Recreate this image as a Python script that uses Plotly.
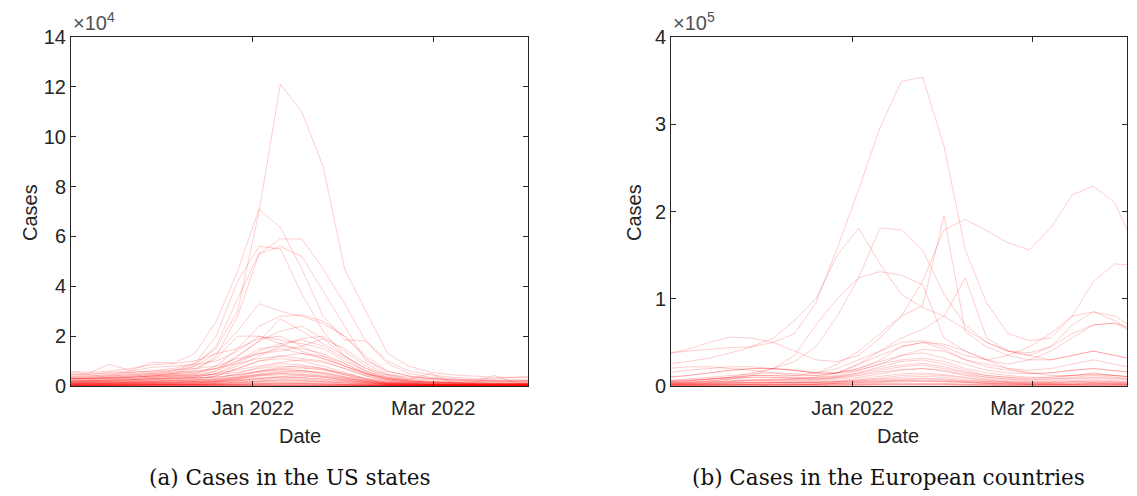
import plotly.graph_objects as go

W, H = 1137, 496

dates = ["2021-11-01", "2021-11-08", "2021-11-15", "2021-11-22", "2021-11-29", "2021-12-06",
         "2021-12-13", "2021-12-20", "2021-12-27", "2022-01-03", "2022-01-10", "2022-01-17",
         "2022-01-24", "2022-01-31", "2022-02-07", "2022-02-14", "2022-02-21", "2022-02-28",
         "2022-03-07", "2022-03-14", "2022-03-21", "2022-03-28", "2022-04-04"]

# US states, cases (x 1e4)
us_01 = [0.45,0.50,0.52,0.55,0.60,0.70,0.90,1.50,3.00,7.00,12.10,11.00,8.80,4.70,3.00,1.30,0.80,0.55,0.45,0.40,0.35,0.35,0.35]
us_02 = [0.55,0.50,0.87,0.62,0.95,0.92,1.30,2.60,4.60,7.10,6.35,4.70,2.80,1.85,1.80,1.00,0.60,0.45,0.35,0.30,0.30,0.35,0.40]
us_03 = [0.30,0.30,0.35,0.35,0.40,0.45,0.60,1.20,2.80,5.30,5.90,5.90,4.70,3.30,1.80,0.90,0.50,0.35,0.30,0.25,0.25,0.25,0.25]
us_04 = [0.35,0.35,0.40,0.45,0.50,0.60,0.90,2.00,4.20,5.60,5.50,3.70,2.20,1.20,0.70,0.45,0.35,0.30,0.25,0.20,0.20,0.20,0.20]
us_05 = [0.30,0.30,0.35,0.40,0.45,0.50,0.80,1.60,3.50,5.30,5.60,5.20,3.80,2.40,1.00,0.60,0.40,0.30,0.25,0.20,0.20,0.20,0.20]
us_06 = [0.40,0.40,0.45,0.50,0.55,0.60,0.80,1.30,2.20,3.30,3.00,2.80,2.50,2.00,1.20,0.60,0.40,0.30,0.25,0.25,0.20,0.20,0.20]
us_07 = [0.30,0.30,0.30,0.35,0.40,0.45,0.50,0.80,1.50,2.40,2.80,2.85,2.60,2.00,1.10,0.50,0.30,0.25,0.20,0.20,0.20,0.20,0.20]
us_08 = [0.20,0.20,0.25,0.25,0.30,0.35,0.40,0.60,1.20,1.80,2.70,2.20,1.70,1.20,0.70,0.35,0.25,0.20,0.15,0.15,0.15,0.15,0.15]
us_09 = [0.20,0.20,0.20,0.25,0.30,0.30,0.35,0.50,0.80,1.20,1.60,1.90,2.00,1.40,0.80,0.40,0.25,0.50,0.15,0.15,0.15,0.15,0.15]
us_10 = [0.30,0.30,0.35,0.40,0.45,0.50,0.70,1.10,2.00,2.00,1.70,1.40,1.10,0.80,0.50,0.30,0.20,0.15,0.15,0.15,0.10,0.10,0.10]
us_11 = [0.25,0.25,0.30,0.30,0.35,0.40,0.50,0.70,1.20,1.80,2.20,2.40,1.90,1.20,0.60,0.30,0.20,0.15,0.15,0.10,0.10,0.10,0.10]
us_12 = [0.60,0.55,0.60,0.70,0.85,0.90,1.00,1.30,1.50,1.90,2.00,1.60,1.20,0.80,0.50,0.30,0.20,0.15,0.12,0.10,0.10,0.10,0.10]
us_13 = [0.50,0.45,0.55,0.60,0.75,0.80,0.85,1.00,1.40,2.00,1.85,1.70,1.50,1.00,0.60,0.35,0.20,0.15,0.12,0.10,0.10,0.10,0.10]
us_14 = [0.15,0.15,0.20,0.20,0.25,0.30,0.35,0.50,0.90,1.40,1.70,1.85,1.60,1.10,0.55,0.30,0.18,0.12,0.10,0.10,0.08,0.08,0.08]
us_15 = [0.20,0.20,0.25,0.30,0.35,0.40,0.45,0.60,1.00,1.50,1.60,1.50,1.30,0.90,0.50,0.25,0.15,0.12,0.10,0.08,0.08,0.08,0.08]
us_16 = [0.40,0.40,0.45,0.55,0.60,0.65,0.70,0.80,1.10,1.30,1.40,1.60,1.90,1.50,0.90,0.45,0.25,0.18,0.15,0.12,0.43,0.12,0.12]
us_17 = [0.25,0.25,0.30,0.35,0.40,0.50,0.55,0.70,1.00,1.30,1.50,1.30,1.10,0.80,0.45,0.25,0.15,0.12,0.10,0.08,0.08,0.08,0.08]
us_18 = [0.15,0.15,0.18,0.20,0.22,0.25,0.30,0.40,0.70,1.00,1.20,1.30,1.20,0.90,0.50,0.25,0.15,0.10,0.08,0.06,0.06,0.06,0.06]
us_19 = [0.35,0.35,0.40,0.45,0.50,0.55,0.60,0.70,0.90,1.10,1.20,1.10,1.00,0.70,0.40,0.20,0.12,0.10,0.08,0.07,0.07,0.07,0.07]
us_20 = [0.10,0.10,0.12,0.15,0.18,0.20,0.25,0.40,0.70,1.00,1.10,1.00,0.80,0.55,0.30,0.15,0.10,0.08,0.06,0.05,0.05,0.05,0.05]
us_21 = [0.20,0.20,0.22,0.25,0.30,0.35,0.40,0.50,0.65,0.80,0.95,1.05,0.95,0.70,0.40,0.20,0.12,0.08,0.07,0.06,0.06,0.06,0.06]
us_22 = [0.12,0.12,0.15,0.15,0.18,0.20,0.22,0.30,0.50,0.75,0.90,0.85,0.70,0.50,0.28,0.15,0.10,0.07,0.06,0.05,0.05,0.05,0.05]
us_23 = [0.30,0.30,0.32,0.35,0.40,0.40,0.42,0.45,0.55,0.70,0.80,0.75,0.65,0.50,0.30,0.18,0.10,0.08,0.06,0.05,0.05,0.05,0.05]
us_24 = [0.08,0.08,0.10,0.12,0.14,0.15,0.18,0.25,0.40,0.60,0.75,0.80,0.70,0.45,0.25,0.12,0.08,0.06,0.05,0.04,0.04,0.04,0.04]
us_25 = [0.18,0.18,0.20,0.22,0.25,0.28,0.30,0.35,0.45,0.60,0.70,0.72,0.65,0.45,0.25,0.12,0.08,0.06,0.05,0.04,0.04,0.04,0.04]
us_26 = [0.10,0.10,0.12,0.12,0.14,0.15,0.16,0.20,0.30,0.45,0.55,0.60,0.55,0.40,0.22,0.12,0.07,0.05,0.04,0.04,0.04,0.04,0.04]
us_27 = [0.15,0.15,0.16,0.18,0.20,0.22,0.25,0.28,0.35,0.45,0.50,0.48,0.40,0.30,0.18,0.10,0.06,0.05,0.04,0.03,0.03,0.03,0.03]
us_28 = [0.06,0.06,0.07,0.08,0.09,0.10,0.12,0.18,0.30,0.40,0.45,0.42,0.35,0.25,0.14,0.08,0.05,0.04,0.03,0.03,0.03,0.03,0.03]
us_29 = [0.12,0.12,0.13,0.14,0.15,0.16,0.18,0.20,0.25,0.32,0.38,0.40,0.35,0.25,0.15,0.08,0.05,0.04,0.03,0.03,0.03,0.03,0.03]
us_30 = [0.05,0.05,0.06,0.06,0.07,0.08,0.10,0.14,0.22,0.30,0.35,0.33,0.28,0.20,0.12,0.06,0.04,0.03,0.03,0.02,0.02,0.02,0.02]
us_31 = [0.08,0.08,0.09,0.10,0.11,0.12,0.13,0.15,0.20,0.26,0.30,0.28,0.24,0.17,0.10,0.06,0.04,0.03,0.02,0.02,0.02,0.02,0.02]
us_32 = [0.04,0.04,0.05,0.05,0.06,0.07,0.08,0.10,0.16,0.22,0.25,0.24,0.20,0.14,0.08,0.05,0.03,0.02,0.02,0.02,0.02,0.02,0.02]
us_33 = [0.06,0.06,0.06,0.07,0.08,0.08,0.09,0.11,0.14,0.18,0.20,0.19,0.16,0.11,0.07,0.04,0.03,0.02,0.02,0.02,0.02,0.02,0.02]
us_34 = [0.03,0.03,0.03,0.04,0.04,0.05,0.06,0.08,0.12,0.15,0.16,0.15,0.12,0.08,0.05,0.03,0.02,0.02,0.01,0.01,0.01,0.01,0.01]
us_35 = [0.04,0.04,0.04,0.05,0.05,0.05,0.06,0.07,0.09,0.11,0.12,0.11,0.09,0.07,0.04,0.03,0.02,0.01,0.01,0.01,0.01,0.01,0.01]
us_36 = [0.02,0.02,0.02,0.03,0.03,0.03,0.04,0.05,0.07,0.09,0.10,0.09,0.07,0.05,0.03,0.02,0.01,0.01,0.01,0.01,0.01,0.01,0.01]
us_37 = [0.03,0.03,0.03,0.03,0.04,0.04,0.04,0.05,0.06,0.07,0.08,0.07,0.06,0.04,0.03,0.02,0.01,0.01,0.01,0.01,0.01,0.01,0.01]
us_38 = [0.01,0.01,0.01,0.02,0.02,0.02,0.02,0.03,0.04,0.05,0.05,0.05,0.04,0.03,0.02,0.01,0.01,0.01,0.01,0.01,0.01,0.01,0.01]
us_39 = [0.02,0.02,0.02,0.02,0.02,0.03,0.03,0.03,0.04,0.04,0.05,0.04,0.04,0.03,0.02,0.01,0.01,0.01,0.01,0.01,0.01,0.01,0.01]
us_40 = [0.01,0.01,0.01,0.01,0.01,0.01,0.02,0.02,0.03,0.03,0.03,0.03,0.02,0.02,0.01,0.01,0.01,0.01,0.01,0.01,0.01,0.01,0.01]
us_41 = [0.02,0.02,0.02,0.02,0.03,0.03,0.03,0.04,0.05,0.06,0.06,0.06,0.05,0.04,0.02,0.02,0.01,0.01,0.01,0.01,0.01,0.01,0.01]
us_42 = [0.01,0.01,0.01,0.01,0.01,0.01,0.01,0.01,0.02,0.02,0.02,0.02,0.02,0.01,0.01,0.01,0.00,0.00,0.00,0.00,0.00,0.00,0.00]
us_43 = [0.03,0.03,0.04,0.04,0.04,0.05,0.05,0.06,0.08,0.10,0.11,0.10,0.09,0.06,0.04,0.02,0.02,0.01,0.01,0.01,0.01,0.01,0.01]
us_44 = [0.00,0.00,0.00,0.01,0.01,0.01,0.01,0.01,0.01,0.01,0.02,0.01,0.01,0.01,0.01,0.00,0.00,0.00,0.00,0.00,0.00,0.00,0.00]
us_45 = [0.09,0.09,0.10,0.11,0.12,0.13,0.15,0.20,0.35,0.55,0.65,0.62,0.50,0.35,0.18,0.10,0.06,0.05,0.04,0.04,0.04,0.04,0.04]
us_46 = [0.07,0.07,0.08,0.09,0.10,0.11,0.12,0.16,0.28,0.42,0.50,0.46,0.38,0.26,0.14,0.08,0.05,0.04,0.03,0.03,0.03,0.03,0.03]
us_47 = [0.14,0.14,0.15,0.16,0.18,0.20,0.22,0.26,0.34,0.48,0.58,0.55,0.45,0.32,0.18,0.10,0.07,0.05,0.05,0.04,0.04,0.04,0.04]
us_48 = [0.05,0.05,0.05,0.06,0.06,0.07,0.08,0.10,0.14,0.20,0.24,0.22,0.18,0.12,0.07,0.04,0.03,0.02,0.02,0.02,0.02,0.02,0.02]
us_49 = [0.10,0.10,0.11,0.12,0.13,0.14,0.15,0.17,0.22,0.30,0.36,0.34,0.28,0.20,0.12,0.07,0.05,0.04,0.03,0.03,0.03,0.03,0.03]
us_50 = [0.22,0.22,0.24,0.26,0.28,0.30,0.32,0.36,0.45,0.58,0.66,0.62,0.52,0.36,0.20,0.12,0.08,0.06,0.05,0.05,0.05,0.05,0.05]

us_series = [us_01, us_02, us_03, us_04, us_05, us_06, us_07, us_08, us_09, us_10,
             us_11, us_12, us_13, us_14, us_15, us_16, us_17, us_18, us_19, us_20,
             us_21, us_22, us_23, us_24, us_25, us_26, us_27, us_28, us_29, us_30,
             us_31, us_32, us_33, us_34, us_35, us_36, us_37, us_38, us_39, us_40,
             us_41, us_42, us_43, us_44, us_45, us_46, us_47, us_48, us_49, us_50]

# European countries, cases (x 1e5)
eu_01 = [0.25,0.28,0.32,0.38,0.45,0.50,0.60,0.95,1.58,2.25,2.96,3.49,3.54,2.75,1.56,0.95,0.60,0.52,0.55,0.80,1.20,1.40,1.38]
eu_02 = [0.37,0.42,0.50,0.56,0.55,0.50,0.40,0.30,0.28,0.35,0.55,0.80,1.20,1.79,1.91,1.78,1.64,1.56,1.81,2.19,2.29,2.10,1.55]
eu_03 = [0.37,0.40,0.42,0.44,0.45,0.55,0.75,1.00,1.50,1.81,1.40,1.05,0.90,0.80,0.65,0.50,0.40,0.35,0.45,0.70,0.85,0.80,0.65]
eu_04 = [0.05,0.06,0.08,0.10,0.15,0.20,0.28,0.45,0.80,1.24,1.81,1.79,1.56,1.05,0.70,0.50,0.40,0.38,0.45,0.60,0.70,0.72,0.65]
eu_05 = [0.03,0.04,0.06,0.08,0.12,0.20,0.35,0.70,1.00,1.24,1.31,1.27,1.16,0.55,0.40,0.30,0.20,0.15,0.12,0.12,0.15,0.12,0.10]
eu_06 = [0.05,0.06,0.08,0.10,0.12,0.12,0.12,0.15,0.25,0.40,0.60,0.80,0.92,1.95,0.62,0.45,0.35,0.30,0.30,0.35,0.40,0.35,0.30]
eu_07 = [0.03,0.03,0.04,0.05,0.06,0.07,0.08,0.10,0.15,0.25,0.40,0.55,0.65,0.80,1.24,0.55,0.40,0.35,0.30,0.35,0.40,0.35,0.30]
eu_08 = [0.20,0.22,0.22,0.20,0.18,0.15,0.12,0.12,0.15,0.25,0.35,0.45,0.50,0.48,0.40,0.30,0.25,0.30,0.40,0.55,0.70,0.72,0.60]
eu_09 = [0.10,0.12,0.15,0.18,0.20,0.20,0.18,0.15,0.20,0.30,0.40,0.50,0.52,0.45,0.35,0.30,0.35,0.45,0.60,0.80,0.85,0.75,0.60]
eu_10 = [0.15,0.18,0.20,0.22,0.22,0.20,0.18,0.15,0.15,0.20,0.30,0.45,0.50,0.42,0.30,0.25,0.20,0.18,0.20,0.25,0.30,0.25,0.20]
eu_11 = [0.10,0.12,0.15,0.18,0.20,0.20,0.18,0.15,0.15,0.18,0.25,0.35,0.42,0.40,0.30,0.22,0.18,0.15,0.15,0.18,0.20,0.18,0.15]
eu_12 = [0.06,0.08,0.10,0.12,0.14,0.15,0.14,0.12,0.15,0.20,0.28,0.35,0.38,0.32,0.25,0.18,0.15,0.14,0.15,0.18,0.20,0.18,0.15]
eu_13 = [0.05,0.06,0.08,0.10,0.12,0.12,0.10,0.10,0.12,0.18,0.25,0.30,0.32,0.28,0.20,0.15,0.12,0.10,0.10,0.12,0.14,0.12,0.10]
eu_14 = [0.04,0.05,0.06,0.08,0.10,0.10,0.09,0.08,0.10,0.15,0.22,0.28,0.30,0.25,0.18,0.12,0.10,0.08,0.08,0.10,0.12,0.10,0.08]
eu_15 = [0.03,0.04,0.05,0.06,0.07,0.08,0.08,0.08,0.10,0.13,0.18,0.22,0.24,0.20,0.15,0.10,0.08,0.06,0.06,0.08,0.09,0.08,0.07]
eu_16 = [0.02,0.03,0.04,0.05,0.06,0.06,0.06,0.06,0.08,0.10,0.14,0.18,0.20,0.17,0.12,0.08,0.06,0.05,0.05,0.06,0.07,0.06,0.05]
eu_17 = [0.02,0.02,0.03,0.04,0.04,0.05,0.05,0.05,0.06,0.08,0.11,0.14,0.15,0.13,0.10,0.07,0.05,0.04,0.04,0.05,0.05,0.05,0.04]
eu_18 = [0.01,0.02,0.02,0.03,0.03,0.04,0.04,0.04,0.05,0.06,0.08,0.10,0.11,0.10,0.07,0.05,0.04,0.03,0.03,0.03,0.04,0.03,0.03]
eu_19 = [0.01,0.01,0.02,0.02,0.02,0.03,0.03,0.03,0.04,0.05,0.06,0.07,0.08,0.07,0.05,0.04,0.03,0.02,0.02,0.02,0.03,0.02,0.02]
eu_20 = [0.01,0.01,0.01,0.01,0.02,0.02,0.02,0.02,0.03,0.03,0.04,0.05,0.05,0.05,0.04,0.03,0.02,0.02,0.02,0.02,0.02,0.02,0.02]
eu_21 = [0.01,0.01,0.01,0.01,0.01,0.01,0.01,0.02,0.02,0.02,0.03,0.03,0.03,0.03,0.02,0.02,0.01,0.01,0.01,0.01,0.01,0.01,0.01]
eu_22 = [0.00,0.00,0.01,0.01,0.01,0.01,0.01,0.01,0.01,0.01,0.02,0.02,0.02,0.02,0.01,0.01,0.01,0.01,0.01,0.01,0.01,0.01,0.01]
eu_23 = [0.02,0.02,0.02,0.02,0.02,0.02,0.02,0.02,0.03,0.04,0.05,0.06,0.06,0.05,0.04,0.03,0.02,0.02,0.02,0.02,0.02,0.02,0.02]
eu_24 = [0.00,0.00,0.00,0.00,0.00,0.01,0.01,0.01,0.01,0.01,0.01,0.01,0.01,0.01,0.01,0.01,0.00,0.00,0.00,0.00,0.00,0.00,0.00]
eu_25 = [0.01,0.01,0.01,0.01,0.01,0.01,0.01,0.01,0.01,0.02,0.02,0.02,0.02,0.02,0.02,0.01,0.01,0.01,0.01,0.01,0.01,0.01,0.01]
eu_26 = [0.06,0.07,0.08,0.09,0.10,0.10,0.09,0.09,0.11,0.15,0.20,0.24,0.26,0.22,0.16,0.12,0.10,0.09,0.10,0.12,0.13,0.12,0.10]
eu_27 = [0.04,0.04,0.05,0.06,0.07,0.07,0.07,0.07,0.09,0.12,0.16,0.19,0.20,0.18,0.13,0.10,0.08,0.07,0.08,0.09,0.10,0.09,0.08]
eu_28 = [0.02,0.02,0.03,0.03,0.04,0.04,0.04,0.04,0.05,0.07,0.09,0.12,0.13,0.12,0.09,0.06,0.05,0.04,0.04,0.05,0.06,0.05,0.04]
eu_29 = [0.03,0.03,0.03,0.04,0.04,0.04,0.04,0.04,0.05,0.06,0.07,0.08,0.09,0.08,0.06,0.05,0.04,0.03,0.03,0.04,0.04,0.04,0.03]
eu_30 = [0.01,0.01,0.01,0.02,0.02,0.02,0.02,0.02,0.03,0.04,0.05,0.06,0.06,0.06,0.05,0.03,0.03,0.02,0.02,0.02,0.03,0.02,0.02]

eu_series = [eu_01, eu_02, eu_03, eu_04, eu_05, eu_06, eu_07, eu_08, eu_09, eu_10, eu_11,
             eu_12, eu_13, eu_14, eu_15, eu_16, eu_17, eu_18, eu_19, eu_20, eu_21, eu_22,
             eu_23, eu_24, eu_25, eu_26, eu_27, eu_28, eu_29, eu_30]

us_ticks = [0, 2, 4, 6, 8, 10, 12, 14]
eu_ticks = [0, 1, 2, 3, 4]
x_tick_dates = ["2022-01-01", "2022-03-01"]
x_tick_labels = ["Jan 2022", "Mar 2022"]

LINE = "rgba(255,0,0,0.2)"
AX = "#262626"
SANS = "Liberation Sans, Arial, sans-serif"
SERIF = "DejaVu Serif, serif"

fig = go.Figure()
for s in us_series:
    fig.add_trace(go.Scatter(x=dates, y=[v * 1e4 for v in s], mode="lines",
                             line=dict(color=LINE, width=1), xaxis="x", yaxis="y",
                             showlegend=False, hoverinfo="skip"))
for s in eu_series:
    fig.add_trace(go.Scatter(x=dates, y=[v * 1e5 for v in s], mode="lines",
                             line=dict(color=LINE, width=1), xaxis="x2", yaxis="y2",
                             showlegend=False, hoverinfo="skip"))

def px_x(p):
    return p / W

def px_y(p):
    return 1 - p / H

common = dict(showline=True, linecolor=AX, linewidth=1, mirror="ticks", ticks="inside",
              ticklen=5, tickcolor=AX, showgrid=False, zeroline=False, automargin=False,
              tickfont=dict(family=SANS, size=20, color=AX))

xr = ["2021-11-02 12:00", "2022-04-01"]
fig.update_layout(
    template="none",
    width=W, height=H, margin=dict(l=0, r=0, t=0, b=0, pad=0),
    paper_bgcolor="white", plot_bgcolor="white",
    xaxis=dict(domain=[px_x(71), px_x(528)], range=xr, tickvals=x_tick_dates,
               ticktext=x_tick_labels, anchor="y", ticklabelstandoff=4, **common),
    yaxis=dict(domain=[px_y(386), px_y(37)], range=[0, 14e4],
               tickvals=[t * 1e4 for t in us_ticks], ticktext=[str(t) for t in us_ticks],
               anchor="x", **common),
    xaxis2=dict(domain=[px_x(671), px_x(1127)], range=xr, tickvals=x_tick_dates,
                ticktext=x_tick_labels, anchor="y2", ticklabelstandoff=4, **common),
    yaxis2=dict(domain=[px_y(386), px_y(37)], range=[0, 4e5],
                tickvals=[t * 1e5 for t in eu_ticks], ticktext=[str(t) for t in eu_ticks],
                anchor="x2", **common),
)

ann = []
def text(x, y, t, size, font=SANS, color=AX, angle=0, xa="center", ya="middle"):
    ann.append(dict(x=px_x(x), y=px_y(y), xref="paper", yref="paper", text=t,
                    showarrow=False, textangle=angle, xanchor=xa, yanchor=ya,
                    font=dict(family=font, size=size, color=color)))

text(30, 213, "Cases", 20, angle=-90)
text(634, 213, "Cases", 20, angle=-90)
text(300, 436, "Date", 20)
text(898, 436, "Date", 20)
text(71, 21, "×10<sup>4</sup>", 20, color="#505050", xa="left")
text(671, 21, "×10<sup>5</sup>", 20, color="#505050", xa="left")
text(290, 477, "(a) Cases in the US states", 21.5, font=SERIF, color="#111111")
text(888, 477, "(b) Cases in the European countries", 21.5, font=SERIF, color="#111111")
fig.update_layout(annotations=ann)

fig.write_html("out.html")
